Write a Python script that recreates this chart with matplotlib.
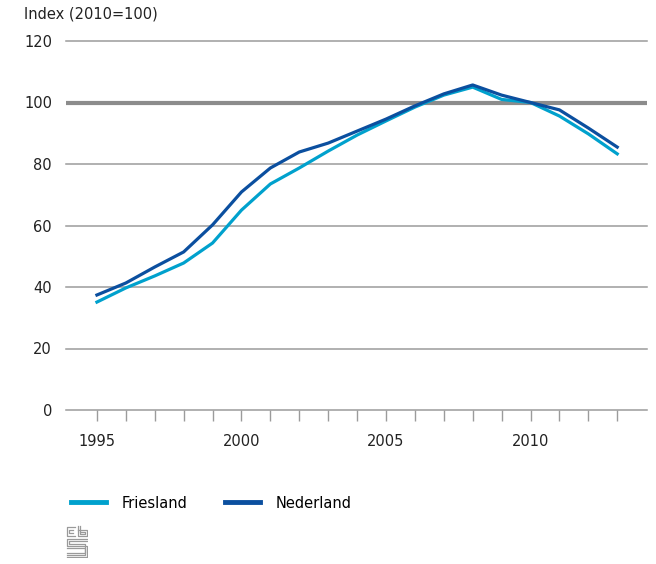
import matplotlib
matplotlib.use('Agg')
import matplotlib.pyplot as plt

# data
years = list(range(1995, 2014))
friesland = [35.1, 39.7, 43.6, 47.8, 54.3, 65.0, 73.5, 78.7, 84.2, 89.4,
             94.0, 98.5, 102.4, 105.0, 101.0, 100.0, 95.6, 89.8, 83.3]
nederland = [37.4, 41.3, 46.5, 51.4, 60.2, 70.9, 78.7, 83.9, 86.8, 90.7,
             94.6, 98.9, 102.8, 105.7, 102.4, 100.0, 97.6, 91.7, 85.5]
ylabels = [0, 20, 40, 60, 80, 100, 120]
xlabels = [1995, 2000, 2005, 2010]

light = '#00a1cd'
dark = '#0b4f9f'
grey = '#9b9b9b'

plt.rcParams['font.family'] = ['DejaVu Sans']

fig = plt.figure(figsize=(6.56, 5.64), dpi=100)
ax = fig.add_axes([66 / 656, 1 - 410 / 564, 581 / 656, 369 / 564])

# grid lines
for v in ylabels:
    if v == 100:
        ax.axhline(v, color='#8c8c8c', lw=3.0, zorder=1)
    else:
        ax.axhline(v, color=grey, lw=1.1, zorder=1, clip_on=False)

# series
ax.plot(years, friesland, color=light, lw=2.3, label='Friesland', zorder=3)
ax.plot(years, nederland, color=dark, lw=2.3, label='Nederland', zorder=4)

ax.set_xlim(1993.93, 2014.03)
ax.set_ylim(0, 120)

for s in ax.spines.values():
    s.set_visible(False)

ax.set_yticks(ylabels)
ax.tick_params(axis='y', length=0, pad=10, labelsize=10.5, labelcolor='#222222')

ax.set_xticks(years, minor=True)
ax.set_xticks(xlabels)
ax.tick_params(axis='x', which='both', length=8, width=1.0, color=grey,
               direction='out', pad=9, labelsize=10.5, labelcolor='#222222')

fig.text(24 / 656, 1 - 14 / 564, 'Index (2010=100)', fontsize=10.5,
         color='#222222', va='center', ha='left')

# legend
leg = fig.legend(loc='center left', bbox_to_anchor=(58 / 656, 1 - 503 / 564),
                 ncol=2, frameon=False, fontsize=10.5, handlelength=2.4,
                 handletextpad=1.05, columnspacing=2.6)
for line in leg.get_lines():
    line.set_linewidth(3.5)

# small cbs logo
lg = fig.add_axes([66 / 656, 1 - 558 / 564, 22 / 656, 33 / 564])
lg.set_xlim(0, 22)
lg.set_ylim(0, 33)
lg.axis('off')
kw = dict(color='#9a9a9a', lw=0.9)
lg.plot([9, 1, 1, 9], [31, 31, 22, 22], **kw)
lg.plot([7, 3, 3, 7], [28, 28, 25, 25], **kw)
lg.plot([12, 12, 21, 21, 12], [32, 22, 22, 28, 28], **kw)
lg.plot([14, 14, 19, 19, 14], [32, 24, 24, 26, 26], **kw)
lg.plot([21, 1, 1, 21, 21, 1], [19, 19, 12, 12, 1, 1], **kw)
lg.plot([21, 3, 3, 19, 19, 1], [17, 17, 14, 14, 3, 3], **kw)
lg.plot([1, 19, 19, 1], [5, 5, 10, 10], **kw)

fig.savefig('out.png', dpi=100)
